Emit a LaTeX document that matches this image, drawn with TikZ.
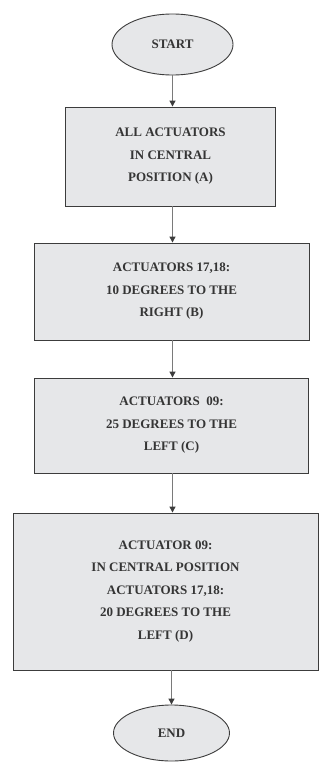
\documentclass[tikz,border=0pt]{standalone}
\usepackage{fontspec}
\setmainfont{Liberation Serif}
\usetikzlibrary{shapes.geometric,arrows.meta}
\definecolor{boxfill}{HTML}{E6E7E9}
\definecolor{boxline}{HTML}{3C3C3C}
\definecolor{arrline}{HTML}{7A7A7A}
\definecolor{txt}{HTML}{353535}
\begin{document}
\begin{tikzpicture}[x=1pt,y=-1pt,
  base/.style={draw=boxline,line width=0.9pt,fill=boxfill,text=txt,
    font=\fontsize{13}{22.5}\selectfont\bfseries,align=center,inner sep=0pt},
  stepbox/.style={base,rectangle},
  term/.style={base,ellipse},
  flow/.style={draw=arrline,line width=1.1pt,-{Triangle[length=6pt,width=6pt,fill=boxline,color=boxline]}}]
\useasboundingbox (0,0) rectangle (320,765);
\node[term,minimum width=121pt,minimum height=61pt] (start) at (172.5,44.5) {START};
\node[stepbox,minimum width=210pt,minimum height=99pt] (a) at (170.5,156.5)
  {ALL ACTUATORS\\IN CENTRAL\\POSITION (A)};
\node[stepbox,minimum width=275pt,minimum height=97pt] (b) at (171.5,291.5)
  {ACTUATORS 17,18:\\10 DEGREES TO THE\\RIGHT (B)};
\node[stepbox,minimum width=274pt,minimum height=95pt] (c) at (171.5,425.5)
  {ACTUATORS\ \ 09:\\25 DEGREES TO THE\\LEFT (C)};
\node[stepbox,minimum width=305pt,minimum height=157pt] (d) at (165.5,591.5)
  {ACTUATOR 09:\\IN CENTRAL POSITION\\ACTUATORS 17,18:\\20 DEGREES TO THE\\LEFT (D)};
\node[term,minimum width=116pt,minimum height=56pt] (e) at (171.5,733) {END};
\draw[flow] (start.south) -- (a.north -| start.south);
\draw[flow] (a.south -| start.south) -- (b.north -| start.south);
\draw[flow] (b.south -| start.south) -- (c.north -| start.south);
\draw[flow] (c.south -| start.south) -- (d.north -| start.south);
\draw[flow] (d.south -| e.north) -- (e.north);
\end{tikzpicture}
\end{document}
